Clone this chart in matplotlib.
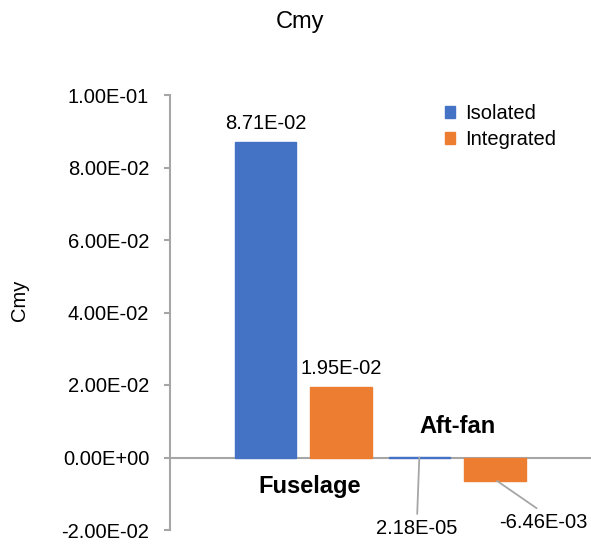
import matplotlib
matplotlib.use("Agg")
import matplotlib.pyplot as plt
import numpy as np

plt.rcParams['font.family'] = ['Liberation Sans', 'DejaVu Sans']

categories = ['Fuselage', 'Aft-fan']
isolated = [8.71e-02, 2.18e-05]
integrated = [1.95e-02, -6.46e-03]

blue = '#4472C4'
orange = '#ED7D31'
grey = '#A6A6A6'

fig = plt.figure(figsize=(5.91, 5.44), dpi=100)
ax = fig.add_axes([170 / 591, 1 - 530 / 544, 421 / 591, 435 / 544])

x = np.arange(len(categories))
off = 0.245
w = 0.40
ax.bar(x - off, isolated, w, color=blue, edgecolor=blue, lw=1, label='Isolated', zorder=2)
ax.bar(x + off, integrated, w, color=orange, edgecolor=orange, lw=1, label='Integrated', zorder=2)

ax.set_xlim(-0.864, 1.87)
ax.set_ylim(-0.02, 0.1)
ax.set_yticks(np.arange(-0.02, 0.1001, 0.02))
ax.yaxis.set_major_formatter(plt.FuncFormatter(lambda v, p: f"{v:.2E}"))
ax.tick_params(axis='y', labelsize=14.5, length=4, width=1.5, color=grey, pad=11)
ax.set_xticks([])
for s in ['top', 'right', 'bottom']:
    ax.spines[s].set_visible(False)
ax.spines['left'].set_color(grey)
ax.spines['left'].set_linewidth(1.5)
ax.axhline(0, color=grey, lw=1.5, zorder=1)

ax.set_ylabel('Cmy', fontsize=14.5)
ax.yaxis.set_label_coords(-0.335, 0.529)
fig.text(300 / 591, 1 - 22 / 544, 'Cmy', fontsize=17, ha='center', va='center')

fmt = lambda v: f"{v:.2E}"

# labels directly above the tall bars
for xi, v in [(x[0] - off, isolated[0]), (x[0] + off, integrated[0])]:
    ax.annotate(fmt(v), (xi, v), xytext=(0, 6), textcoords='offset points',
                ha='center', va='bottom', fontsize=14.5)

# leader-line labels for the small aft-fan values
ax.annotate(fmt(isolated[1]), (x[1] - off, 0), xytext=(0.74, -0.0171),
            ha='center', va='top', fontsize=14.5,
            arrowprops=dict(arrowstyle='-', color=grey, lw=1.3, shrinkA=2, shrinkB=0,
                            relpos=(0.5, 1)))
ax.annotate(fmt(integrated[1]), (1.26, integrated[1]), xytext=(1.558, -0.0152),
            ha='center', va='top', fontsize=14.5,
            arrowprops=dict(arrowstyle='-', color=grey, lw=1.3, shrinkA=2, shrinkB=0,
                            relpos=(0.5, 1)))

# category names placed inside the plot
ax.text(0.045, -0.0080, categories[0], ha='center', va='center', fontsize=17, fontweight='bold')
ax.text(1.006, 0.0085, categories[1], ha='center', va='center', fontsize=17, fontweight='bold')

ax.legend(loc='upper left', bbox_to_anchor=(445 / 591, 1 - 104 / 544),
          bbox_transform=fig.transFigure, frameon=False, fontsize=14.5,
          handlelength=0.5, handleheight=0.5, handletextpad=0.5, labelspacing=0.35,
          borderaxespad=0, borderpad=0)

fig.savefig('out.png', dpi=100)
